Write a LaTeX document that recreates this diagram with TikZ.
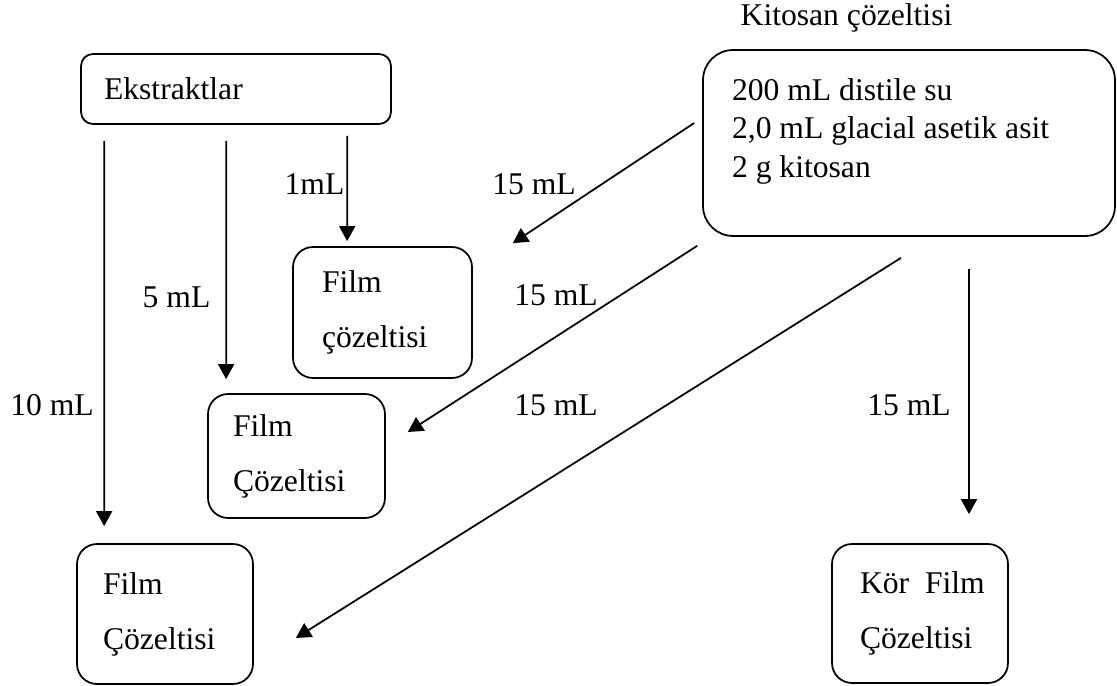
\documentclass[tikz,border=0pt]{standalone}
\usepackage{fontspec}
\setmainfont{Liberation Serif}
\usetikzlibrary{calc, arrows.meta}

\begin{document}
\begin{tikzpicture}[x=0.02cm, y=-0.02cm, >=latex]
      \tikzstyle{filmbox} = [rectangle, rounded corners=0.4cm, draw=black, line width=1pt, align=flush left, font=\fontsize{18}{31.3}\selectfont]
      \tikzstyle{lbl} = [font=\fontsize{18}{22}\selectfont, inner sep=0pt]
      \tikzstyle{arrow} = [line width=1pt, -{Triangle[length=0.3cm, width=0.32cm]}]

      \useasboundingbox (0,0) rectangle (1117,686);

      \node (ekstrakt) [filmbox, rounded corners=0.24cm, minimum width=6.2cm, minimum height=1.4cm, text width=5.28cm, inner xsep=0.46cm] at (236,89) {Ekstraktlar};
      \node (kitosan) [filmbox, rounded corners=0.6cm, minimum width=8.24cm, minimum height=3.72cm, text width=7.08cm, inner xsep=0.58cm, font=\fontsize{18}{21.9}\selectfont] at (909,143) {200 mL distile su\\2,0 mL glacial asetik asit\\2 g kitosan\rule[-0.61cm]{0pt}{0.61cm}};
      \node (kitbaslik) [lbl] at (846.5,18) {Kitosan çözeltisi};

      \node (film1) [filmbox, minimum width=3.58cm, minimum height=2.62cm, text width=2.42cm, inner xsep=0.58cm] at (382.5,312.5) {Film\\çözeltisi};
      \node (film2) [filmbox, minimum width=3.54cm, minimum height=2.48cm, text width=2.54cm, inner xsep=0.5cm] at (296.5,456) {Film\\Çözeltisi};
      \node (film3) [filmbox, minimum width=3.52cm, minimum height=2.8cm, text width=2.48cm, inner xsep=0.52cm] at (165,614) {Film\\Çözeltisi};
      \node (kor) [filmbox, minimum width=3.52cm, minimum height=2.78cm, text width=2.4cm, inner xsep=0.56cm] at (920,613.5) {\mbox{Kör~~Film}\\Çözeltisi};

      % miktarlar
      \node (m1) [lbl] at (314.5,184) {1mL};
      \node (m5) [lbl] at (176.5,297) {5 mL};
      \node (m10) [lbl] at (52,405) {10 mL};
      \node (k1) [lbl] at (534,184) {15 mL};
      \node (k2) [lbl] at (556,295) {15 mL};
      \node (k3) [lbl] at (556,405) {15 mL};
      \node (k4) [lbl] at (909,405) {15 mL};

      \draw [arrow] ($(ekstrakt.south west)+(24,16)$) -- ($(film3.north west)+(28,-17)$);
      \draw [arrow] ($(ekstrakt.south west)+(146,16)$) -- ($(film2.north west)+(19,-14)$);
      \draw [arrow] ($(ekstrakt.south west)+(267,11)$) -- ($(film1.north west)+(55,-5)$);

      \draw [arrow] ($(kitosan.west)+(-8,-20)$) -- ($(film1.north east)+(40,-3)$);
      \draw [arrow] ($(kitosan.south west)+(-5,9)$) -- ($(film2.east)+(22,-24)$);
      \draw [arrow] ($(kitosan.south)+(-8,21)$) -- ($(film3.east)+(42,24)$);
      \draw [arrow] ($(kitosan.south)+(60,32)$) -- ($(kor.north)+(49,-29)$);

    \end{tikzpicture}
\end{document}
